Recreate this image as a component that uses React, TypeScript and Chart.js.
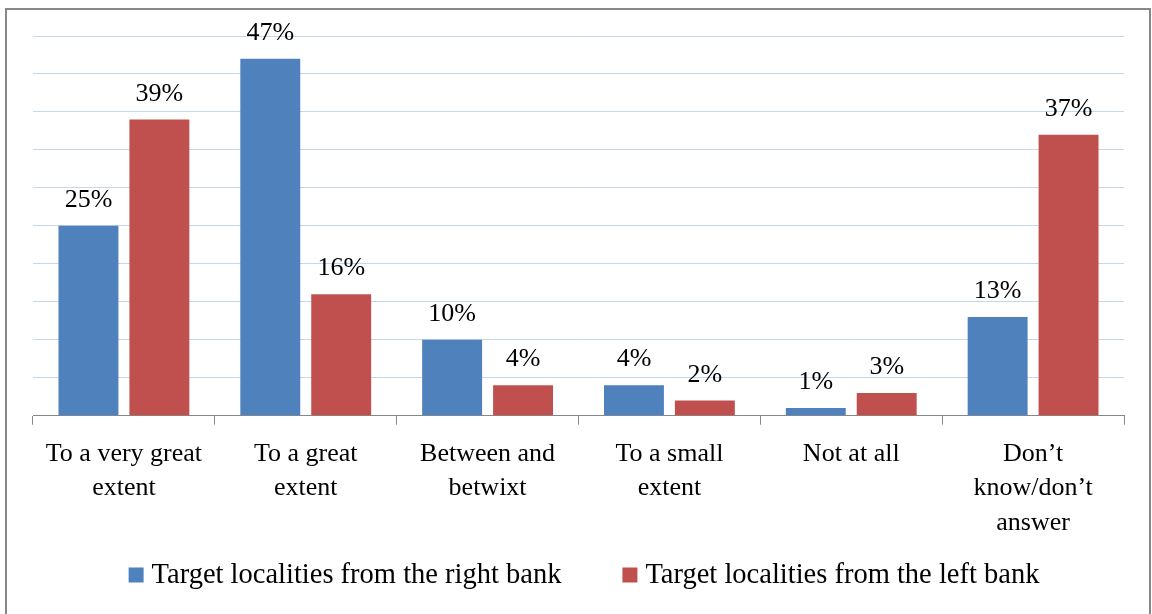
import React, { useEffect, useRef } from "react";
import { Chart, registerables } from "chart.js";

Chart.register(...registerables);

const categories: (string | string[])[] = [
  ["To a very great", "extent"],
  ["To a great", "extent"],
  ["Between and", "betwixt"],
  ["To a small", "extent"],
  "Not at all",
  ["Don’t", "know/don’t", "answer"],
];
const seriesNames = [
  "Target localities from the right bank",
  "Target localities from the left bank",
];
const rightBank = [25, 47, 10, 4, 1, 13];
const leftBank = [39, 16, 4, 2, 3, 37];
const colors = ["#4F81BD", "#C0504D"];
const yMax = 50;
const yStep = 5;

const FONT = "'Liberation Serif', 'Times New Roman', serif";

const valueLabels = {
  id: "valueLabels",
  afterDatasetsDraw(chart: any) {
    const ctx = chart.ctx;
    ctx.save();
    ctx.font = `26px ${FONT}`;
    ctx.fillStyle = "#000";
    ctx.textAlign = "center";
    ctx.textBaseline = "alphabetic";
    chart.data.datasets.forEach((ds: any, di: number) => {
      const meta = chart.getDatasetMeta(di);
      meta.data.forEach((bar: any, i: number) => {
        ctx.fillText(`${ds.data[i]}%`, bar.x, bar.y - 19);
      });
    });
    ctx.restore();
  },
};

// Legend drawn below the axis (Chart.js's own legend ties item spacing to its height)
const bottomLegend = {
  id: "bottomLegend",
  afterDraw(chart: any) {
    const ctx = chart.ctx;
    const box = 15;
    const textGap = 8;
    const itemGap = 61;
    const centerX = 584;
    const centerY = 575;
    ctx.save();
    ctx.font = `28.5px ${FONT}`;
    ctx.textBaseline = "middle";
    ctx.textAlign = "left";
    const items = chart.data.datasets.map((ds: any) => {
      const w = ctx.measureText(ds.label).width;
      return { label: ds.label, color: ds.backgroundColor, w: box + textGap + w };
    });
    const total =
      items.reduce((s: number, it: any) => s + it.w, 0) + itemGap * (items.length - 1);
    let x = centerX - total / 2;
    items.forEach((it: any) => {
      ctx.fillStyle = it.color;
      ctx.fillRect(x, centerY - box / 2, box, box);
      ctx.fillStyle = "#000";
      ctx.fillText(it.label, x + box + textGap, centerY + 1);
      x += it.w + itemGap;
    });
    ctx.restore();
  },
};

export default function App() {
  const ref = useRef<HTMLCanvasElement | null>(null);
  useEffect(() => {
    if (!ref.current) return;
    const chart = new Chart(ref.current, {
      type: "bar",
      data: {
        labels: categories,
        datasets: [
          {
            label: seriesNames[0],
            data: rightBank,
            backgroundColor: colors[0],
            categoryPercentage: 0.78,
            barPercentage: 0.845,
          },
          {
            label: seriesNames[1],
            data: leftBank,
            backgroundColor: colors[1],
            categoryPercentage: 0.78,
            barPercentage: 0.845,
          },
        ],
      },
      options: {
        responsive: false,
        animation: false,
        devicePixelRatio: 1,
        layout: { padding: { left: 33, right: 28, top: 36, bottom: 68.3 } },
        plugins: {
          legend: { display: false },
          tooltip: { enabled: false },
        },
        scales: {
          x: {
            grid: {
              offset: true,
              drawOnChartArea: false,
              drawTicks: true,
              tickLength: 9,
              color: "#878787",
            },
            border: { color: "#878787", width: 1 },
            ticks: {
              font: { family: FONT, size: 26, lineHeight: 1.33 },
              color: "#000",
              padding: 12,
              maxRotation: 0,
              autoSkip: false,
            },
            afterFit: (s: any) => {
              s.height = 130;
            },
          },
          y: {
            min: 0,
            max: yMax,
            ticks: { display: false, stepSize: yStep },
            grid: { color: "#C6D7EC", drawTicks: false },
            border: { display: false },
            afterFit: (s: any) => {
              s.width = 0;
            },
          },
        },
      },
      plugins: [valueLabels, bottomLegend],
    });
    return () => chart.destroy();
  }, []);
  return (
    <div style={{ position: "fixed", left: 0, top: 0, width: 1152, height: 614, background: "#fff" }}>
      <canvas ref={ref} width={1152} height={614} style={{ position: "absolute", left: 0, top: 0 }} />
      <div
        style={{
          position: "absolute",
          left: 5,
          top: 8,
          width: 1146,
          height: 700,
          boxSizing: "border-box",
          border: "2px solid #878787",
          pointerEvents: "none",
        }}
      />
    </div>
  );
}
